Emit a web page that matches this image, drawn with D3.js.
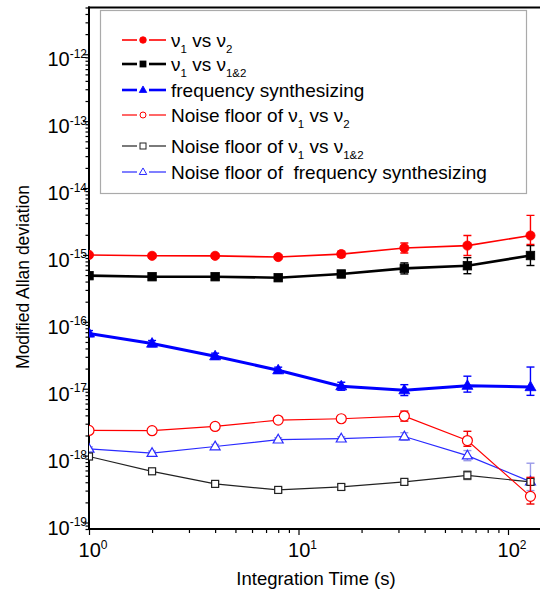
<!DOCTYPE html>
<html><head><meta charset="utf-8">
<script src="https://cdn.jsdelivr.net/npm/d3@7"></script>
<style>body{margin:0;background:#fff}svg{display:block;font-family:"Liberation Sans",Arial,sans-serif}</style>
</head><body>
<svg id="c" width="540" height="595"></svg>
<script>
// ---- data ----
const tau = [1, 2, 4, 8, 16, 32, 64, 128];

const v12     = [1.0e-15, 0.97e-15, 0.97e-15, 0.93e-15, 1.03e-15, 1.27e-15, 1.38e-15, 1.95e-15];
const v12Hi   = [1.07e-15, 1.04e-15, 1.04e-15, 1.0e-15, 1.14e-15, 1.51e-15, 1.95e-15, 3.9e-15];
const v12Lo   = [0.93e-15, 0.9e-15, 0.9e-15, 0.87e-15, 0.93e-15, 1.07e-15, 0.98e-15, 1.43e-15];

const v1_12   = [4.9e-16, 4.73e-16, 4.73e-16, 4.57e-16, 5.19e-16, 6.3e-16, 6.9e-16, 9.8e-16];
const v1_12Hi = [5.2e-16, 5.0e-16, 5.0e-16, 4.85e-16, 5.7e-16, 7.6e-16, 9.1e-16, 1.38e-15];
const v1_12Lo = [4.6e-16, 4.45e-16, 4.45e-16, 4.3e-16, 4.7e-16, 5.2e-16, 5.24e-16, 6.95e-16];

const synth   = [6.7e-17, 4.74e-17, 3.06e-17, 1.89e-17, 1.09e-17, 9.5e-18, 1.11e-17, 1.06e-17];
const synthHi = [7.4e-17, 5.26e-17, 3.4e-17, 2.1e-17, 1.25e-17, 1.15e-17, 1.54e-17, 2.11e-17];
const synthLo = [6.04e-17, 4.27e-17, 2.76e-17, 1.7e-17, 9.5e-18, 7.9e-18, 8.9e-18, 7.96e-18];

const nf12    = [2.38e-18, 2.36e-18, 2.73e-18, 3.4e-18, 3.56e-18, 3.9e-18, 1.68e-18, 2.46e-19];
const nf12Hi  = [2.55e-18, 2.53e-18, 2.93e-18, 3.75e-18, 3.95e-18, 4.63e-18, 2.31e-18, 4.73e-19];
const nf12Lo  = [2.22e-18, 2.2e-18, 2.55e-18, 3.08e-18, 3.2e-18, 3.28e-18, 1.38e-18, 1.89e-19];

const nf1_12   = [9.7e-19, 5.83e-19, 3.78e-19, 3.07e-19, 3.4e-19, 4.05e-19, 5.08e-19, 4.05e-19];
const nf1_12Hi = [1.04e-18, 6.3e-19, 4.1e-19, 3.3e-19, 3.7e-19, 4.4e-19, 5.85e-19, 4.45e-19];
const nf1_12Lo = [9.0e-19, 5.4e-19, 3.5e-19, 2.85e-19, 3.1e-19, 3.7e-19, 4.4e-19, 3.7e-19];

const nfSynth   = [1.26e-18, 1.09e-18, 1.37e-18, 1.73e-18, 1.79e-18, 1.93e-18, 1.0e-18, 4.09e-19];
const nfSynthHi = [1.35e-18, 1.17e-18, 1.47e-18, 1.85e-18, 1.92e-18, 2.2e-18, 1.19e-18, 7.7e-19];
const nfSynthLo = [1.18e-18, 1.02e-18, 1.28e-18, 1.62e-18, 1.67e-18, 1.7e-18, 0.84e-18, 3.0e-19];

const xDomain = [1, 150];
const yDomain = [8e-20, 5e-12];
const xTickExp = [0, 1, 2];
const yTickExp = [-19, -18, -17, -16, -15, -14, -13, -12];
const xTitle = "Integration Time (s)";
const yTitle = "Modified Allan deviation";

// ---- series definitions (styles) ----
const series = [
  {vals: v12, hi: v12Hi, lo: v12Lo, color: "#ff0000", err: "#ff0000", lw: 1.6, shape: "circle", filled: true, size: 4.6,
   label: [["ν",""],["1","sub"],[" vs ",""],["ν",""],["2","sub"]], llw: 1.6},
  {vals: v1_12, hi: v1_12Hi, lo: v1_12Lo, color: "#000000", err: "#000000", lw: 2.6, shape: "square", filled: true, size: 8.5,
   label: [["ν",""],["1","sub"],[" vs ",""],["ν",""],["1&2","sub"]], llw: 2.6},
  {vals: synth, hi: synthHi, lo: synthLo, color: "#0000ff", err: "#0000ff", lw: 3, shape: "triangle", filled: true, size: 11,
   label: [["frequency synthesizing",""]], llw: 2.6},
  {vals: nf12, hi: nf12Hi, lo: nf12Lo, color: "#ff0000", err: "#ee0000", lw: 1.2, shape: "circle", filled: false, size: 5,
   label: [["Noise floor of ν",""],["1","sub"],[" vs ν",""],["2","sub"]], llw: 1.2},
  {vals: nf1_12, hi: nf1_12Hi, lo: nf1_12Lo, color: "#222222", err: "#555555", lw: 1.2, shape: "square", filled: false, size: 7,
   label: [["Noise floor of ν",""],["1","sub"],[" vs ν",""],["1&2","sub"]], llw: 1.2},
  {vals: nfSynth, hi: nfSynthHi, lo: nfSynthLo, color: "#2a2aff", err: "#9a9ae8", lw: 1.2, shape: "triangle", filled: false, size: 10,
   label: [["Noise floor of  frequency synthesizing",""]], llw: 1.2}
];

// ---- layout ----
const svg = d3.select("#c");
const pLeft = 89, pBottom = 529, pTop = 7.5;
const decadePx = 209.5;
const x = d3.scaleLog().domain(xDomain).range([pLeft, pLeft + decadePx * Math.log10(xDomain[1] / xDomain[0])]);
const y = d3.scaleLog().domain(yDomain).range([pBottom, pTop]);

svg.append("defs").append("clipPath").attr("id", "clip")
  .append("rect").attr("x", pLeft).attr("y", pTop).attr("width", 540 - pLeft).attr("height", pBottom - pTop);

const isMajor = d => Math.abs(Math.log10(d) - Math.round(Math.log10(d))) < 1e-9;

// ---- axes ----
const yAxis = d3.axisLeft(y).tickValues(y.ticks()).tickFormat("").tickSizeOuter(0).tickSize(3);
const gy = svg.append("g").attr("transform", `translate(${pLeft},0)`).call(yAxis);
gy.selectAll(".tick line").attr("stroke", "#000").attr("stroke-width", 1.2)
  .attr("x2", d => isMajor(d) ? -6 : -3.5);
gy.select(".domain").remove();

const xAxis = d3.axisBottom(x).tickValues(x.ticks()).tickFormat("").tickSizeOuter(0).tickSize(4);
const gx = svg.append("g").attr("transform", `translate(0,${pBottom})`).call(xAxis);
gx.selectAll(".tick line").attr("stroke", "#000").attr("stroke-width", 1.2)
  .attr("y2", d => isMajor(d) ? 6 : 4);
gx.select(".domain").remove();

svg.append("line").attr("x1", pLeft).attr("x2", pLeft).attr("y1", pTop - 1).attr("y2", pBottom + 1)
  .attr("stroke", "#000").attr("stroke-width", 2);
svg.append("line").attr("x1", pLeft - 1).attr("x2", 540).attr("y1", pBottom).attr("y2", pBottom)
  .attr("stroke", "#000").attr("stroke-width", 2);
svg.append("line").attr("x1", pLeft - 1).attr("x2", 540).attr("y1", pTop).attr("y2", pTop)
  .attr("stroke", "#000").attr("stroke-width", 2);

const fsTick = 20;
yTickExp.forEach(e => {
  const t = svg.append("text").attr("x", 87).attr("y", y(Math.pow(10, e)) + 12)
    .attr("text-anchor", "end").attr("font-size", fsTick).attr("fill", "#000");
  t.append("tspan").text("10");
  t.append("tspan").attr("font-size", 12).attr("dy", -8.5).text("-" + Math.abs(e));
});
xTickExp.forEach(e => {
  const t = svg.append("text").attr("x", x(Math.pow(10, e)) + 4).attr("y", 557)
    .attr("text-anchor", "middle").attr("font-size", fsTick).attr("fill", "#000");
  t.append("tspan").text("10");
  t.append("tspan").attr("font-size", 12).attr("dy", -8.5).text(String(e));
});

svg.append("text").attr("x", 316).attr("y", 585).attr("text-anchor", "middle")
  .attr("font-size", 18.5).text(xTitle);
svg.append("text").attr("transform", "translate(29,277) rotate(-90)").attr("text-anchor", "middle")
  .attr("font-size", 17.5).text(yTitle);

// ---- legend box ----
svg.append("rect").attr("x", 100.5).attr("y", 10.5).attr("width", 426).attr("height", 183)
  .attr("fill", "#fff").attr("stroke", "#aaaaaa").attr("stroke-width", 1.2);

function marker(g, shape, cx, cy, size, color, filled, sw) {
  let m;
  if (shape === "circle") {
    m = g.append("circle").attr("cx", cx).attr("cy", cy).attr("r", size);
  } else if (shape === "square") {
    m = g.append("rect").attr("x", cx - size / 2).attr("y", cy - size / 2).attr("width", size).attr("height", size);
  } else {
    const h = size * 0.87;
    m = g.append("path").attr("d", `M${cx},${cy - h * 0.62}L${cx + size / 2},${cy + h * 0.38}L${cx - size / 2},${cy + h * 0.38}Z`);
  }
  m.attr("fill", filled ? color : "#fff").attr("stroke", color).attr("stroke-width", filled ? 0.8 : sw);
}

// ---- data marks ----
const plot = svg.append("g").attr("clip-path", "url(#clip)");
[5, 4, 3, 2, 1, 0].forEach(i => {
  const s = series[i];
  const g = plot.append("g");
  const pts = tau.map((t, k) => ({t, v: s.vals[k], hi: s.hi[k], lo: s.lo[k]}));
  g.append("path").datum(pts)
    .attr("d", d3.line().x(d => x(d.t)).y(d => y(d.v)))
    .attr("fill", "none").attr("stroke", s.color).attr("stroke-width", s.lw);
  pts.forEach(d => {
    const cx = x(d.t);
    g.append("line").attr("x1", cx).attr("x2", cx).attr("y1", y(d.hi)).attr("y2", y(d.lo))
      .attr("stroke", s.err).attr("stroke-width", 1.4);
    [d.hi, d.lo].forEach(v => g.append("line").attr("x1", cx - 4).attr("x2", cx + 4)
      .attr("y1", y(v)).attr("y2", y(v)).attr("stroke", s.err).attr("stroke-width", 1.4));
  });
  pts.forEach(d => marker(g, s.shape, x(d.t), y(d.v), s.size, s.color, s.filled, 1.2));
});

// ---- legend entries ----
const legRows = [40, 64, 90, 115, 146, 172];
const fsLeg = 19;
series.forEach((s, i) => {
  const cy = legRows[i];
  const g = svg.append("g");
  g.append("line").attr("x1", 122).attr("x2", 137).attr("y1", cy).attr("y2", cy)
    .attr("stroke", s.color).attr("stroke-width", s.llw);
  g.append("line").attr("x1", 149).attr("x2", 166).attr("y1", cy).attr("y2", cy)
    .attr("stroke", s.color).attr("stroke-width", s.llw);
  const sz = s.shape === "circle" ? (s.filled ? 3.3 : 3) : (s.shape === "square" ? 6 : 7.5);
  marker(g, s.shape, 143, cy, sz, s.color, s.filled, 1);
  const t = g.append("text").attr("x", 171).attr("y", cy + 6.5).attr("font-size", fsLeg).attr("fill", "#000")
    .style("white-space", "pre");
  let shifted = false;
  s.label.forEach(([txt, kind]) => {
    const ts = t.append("tspan").text(txt);
    if (kind === "sub") { ts.attr("font-size", 11.5).attr("dy", 6); shifted = true; }
    else if (shifted) { ts.attr("dy", -6); shifted = false; }
  });
});
</script>
</body></html>
